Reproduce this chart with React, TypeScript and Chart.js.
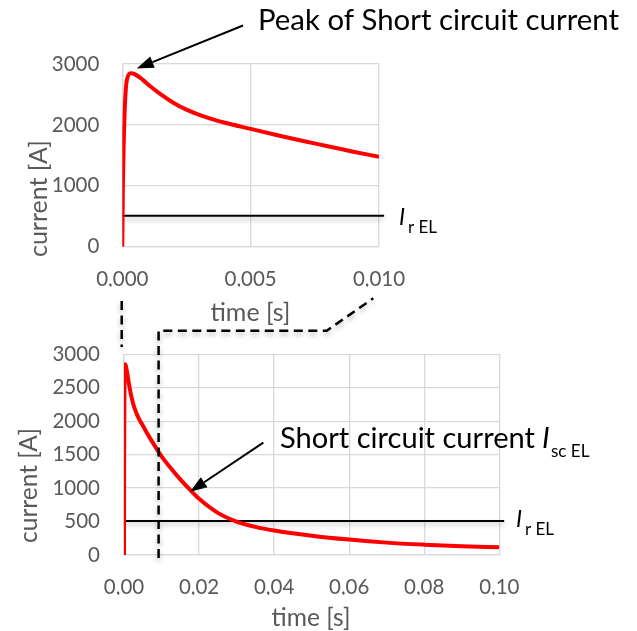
import React, { useEffect, useRef } from "react";
import { Chart, registerables } from "chart.js";

Chart.register(...registerables);

// ---- data ----
const timeS = [
  0, 0.00002, 0.00005, 0.0001, 0.00015, 0.00022, 0.00034, 0.0005, 0.0008, 0.0011,
  0.0015, 0.002, 0.0025, 0.003, 0.0035, 0.004, 0.005, 0.006, 0.007, 0.008,
  0.009, 0.01, 0.012, 0.015, 0.018, 0.02, 0.025, 0.03, 0.035, 0.04,
  0.05, 0.06, 0.07, 0.08, 0.09, 0.1,
];
const currentA = [
  0, 900, 1600, 2300, 2650, 2800, 2850, 2830, 2740, 2630,
  2500, 2360, 2250, 2165, 2095, 2035, 1935, 1835, 1740, 1650,
  1560, 1475, 1330, 1130, 950, 840, 630, 500, 420, 365,
  288, 230, 185, 155, 132, 115,
];
const ratedCurrentA = 510;

const topXTicks = [0, 0.005, 0.01];
const topXTickLabels = ["0,000", "0,005", "0,010"];
const topYTicks = [0, 1000, 2000, 3000];

const bottomXTicks = [0, 0.02, 0.04, 0.06, 0.08, 0.1];
const bottomXTickLabels = ["0,00", "0,02", "0,04", "0,06", "0,08", "0,10"];
const bottomYTicks = [0, 500, 1000, 1500, 2000, 2500, 3000];

const W = 637;
const H = 631;
const FONT = "Lato";
const GRAY = "#595959";
const GRID = "#d9d9d9";

const shadowPlugin = {
  id: "lineShadow",
  beforeDatasetDraw(chart: any, args: any) {
    if (args.index === 1) {
      const c = chart.ctx;
      c.save();
      c.shadowColor = "rgba(0,0,0,0.28)";
      c.shadowBlur = 5;
      c.shadowOffsetY = 3;
    }
  },
  afterDatasetDraw(chart: any, args: any) {
    if (args.index === 1) chart.ctx.restore();
  },
};

type Cfg = {
  xMax: number;
  ratedEnd: number;
  xTicks: number[];
  xLabels: string[];
  yTicks: number[];
  yWidth: number;
  tickPadY: number;
  padding: { left: number; right: number; top: number; bottom: number };
};

function makeChart(canvas: HTMLCanvasElement, cfg: Cfg) {
  const pts = timeS
    .map((t, i) => ({ x: t, y: currentA[i] }))
    .filter((p) => p.x <= cfg.xMax + 1e-12);
  return new Chart(canvas, {
    type: "line",
    data: {
      datasets: [
        {
          data: pts,
          borderColor: "#ff0000",
          borderWidth: 4,
          pointRadius: 0,
          cubicInterpolationMode: "monotone",
          fill: false,
        },
        {
          data: [
            { x: 0, y: ratedCurrentA },
            { x: cfg.ratedEnd, y: ratedCurrentA },
          ],
          borderColor: "#000000",
          borderWidth: 2,
          pointRadius: 0,
          fill: false,
          clip: false as any,
        },
      ],
    },
    options: {
      responsive: false,
      animation: false,
      devicePixelRatio: 1,
      layout: { padding: cfg.padding },
      plugins: { legend: { display: false }, tooltip: { enabled: false } },
      events: [],
      scales: {
        x: {
          type: "linear",
          min: 0,
          max: cfg.xMax,
          afterBuildTicks: (s: any) => {
            s.ticks = cfg.xTicks.map((v) => ({ value: v }));
          },
          afterFit: (s: any) => {
            s.height = 40;
          },
          grid: { color: GRID, lineWidth: 1.3, drawTicks: false },
          border: { display: true, color: GRID, width: 1.3 },
          ticks: {
            padding: 20,
            maxRotation: 0,
            autoSkip: false,
            color: GRAY,
            font: { family: FONT, size: 20.5 },
            callback: (_v: any, i: number) => cfg.xLabels[i],
          },
        },
        y: {
          type: "linear",
          min: 0,
          max: 3000,
          afterBuildTicks: (s: any) => {
            s.ticks = cfg.yTicks.map((v) => ({ value: v }));
          },
          afterFit: (s: any) => {
            s.width = cfg.yWidth;
          },
          grid: { color: GRID, lineWidth: 1.3, drawTicks: false },
          border: { display: true, color: GRID, width: 1.3 },
          ticks: {
            padding: cfg.tickPadY,
            color: GRAY,
            font: { family: FONT, size: 20.5 },
            callback: (v: any) => String(v),
          },
        },
      },
    },
    plugins: [shadowPlugin],
  } as any);
}

function fitSize(ctx: CanvasRenderingContext2D, text: string, width: number, style = "") {
  ctx.font = `${style} 100px ${FONT}`.trim();
  return (100 * width) / ctx.measureText(text).width;
}

function drawOverlay(ctx: CanvasRenderingContext2D) {
  ctx.clearRect(0, 0, W, H);

  // axis titles
  const title = (text: string, cx: number, cy: number, width: number, rotate: boolean) => {
    const size = fitSize(ctx, text, width);
    ctx.save();
    ctx.fillStyle = GRAY;
    ctx.font = `${size}px ${FONT}`;
    ctx.textAlign = "center";
    ctx.textBaseline = "middle";
    ctx.translate(cx, cy);
    if (rotate) ctx.rotate(-Math.PI / 2);
    ctx.fillText(text, 0, 0);
    ctx.restore();
  };
  title("current [A]", 39, 198.5, 117, true);
  title("time [s]", 250.5, 313, 80, false);
  title("current [A]", 29, 485.5, 115, true);
  title("time [s]", 311, 618, 79, false);

  // dashed connectors
  ctx.save();
  ctx.strokeStyle = "#000";
  ctx.lineWidth = 2.5;
  ctx.setLineDash([9, 5.5]);
  ctx.shadowColor = "rgba(0,0,0,0.3)";
  ctx.shadowBlur = 5;
  ctx.shadowOffsetY = 3;
  ctx.beginPath();
  ctx.moveTo(121.7, 301);
  ctx.lineTo(121.7, 347);
  ctx.stroke();
  ctx.beginPath();
  ctx.moveTo(158.6, 558);
  ctx.lineTo(158.6, 330.7);
  ctx.lineTo(326.7, 330.7);
  ctx.lineTo(373.3, 298.3);
  ctx.stroke();
  ctx.restore();

  // arrows
  const arrow = (x1: number, y1: number, x2: number, y2: number) => {
    const len = 17;
    const hw = 6;
    const a = Math.atan2(y2 - y1, x2 - x1);
    const bx = x2 - len * Math.cos(a);
    const by = y2 - len * Math.sin(a);
    ctx.save();
    ctx.strokeStyle = "#000";
    ctx.fillStyle = "#000";
    ctx.lineWidth = 2;
    ctx.beginPath();
    ctx.moveTo(x1, y1);
    ctx.lineTo(bx, by);
    ctx.stroke();
    ctx.beginPath();
    ctx.moveTo(x2, y2);
    ctx.lineTo(bx + hw * Math.sin(a), by - hw * Math.cos(a));
    ctx.lineTo(bx - hw * Math.sin(a), by + hw * Math.cos(a));
    ctx.closePath();
    ctx.fill();
    ctx.restore();
  };
  arrow(243, 25.5, 136.7, 68.5);
  arrow(263.3, 442.7, 190, 491.7);

  // annotation texts
  ctx.save();
  ctx.fillStyle = "#000";
  ctx.textAlign = "left";
  ctx.textBaseline = "alphabetic";
  const peak = "Peak of Short circuit current";
  const ps = fitSize(ctx, peak, 361);
  ctx.font = `${ps}px ${FONT}`;
  ctx.fillText(peak, 258, 29.5);

  const sc = "Short circuit current";
  const ss = fitSize(ctx, sc, 255);
  ctx.font = `${ss}px ${FONT}`;
  ctx.fillText(sc, 280, 448);
  ctx.font = `italic ${ss}px ${FONT}`;
  ctx.fillText("I", 542, 448);
  ctx.font = `17px ${FONT}`;
  ctx.fillText("sc EL", 551, 457);

  const irLabel = (x: number, y: number) => {
    ctx.font = `italic 23px ${FONT}`;
    ctx.fillText("I", x, y);
    ctx.font = `17px ${FONT}`;
    ctx.fillText("r EL", x + 9, y + 8);
  };
  irLabel(399, 225);
  irLabel(516, 527);
  ctx.restore();
}

export default function App() {
  const topRef = useRef<HTMLCanvasElement>(null);
  const botRef = useRef<HTMLCanvasElement>(null);
  const ovRef = useRef<HTMLCanvasElement>(null);

  useEffect(() => {
    const top = makeChart(topRef.current!, {
      xMax: 0.01,
      ratedEnd: 0.0102,
      xTicks: topXTicks,
      xLabels: topXTickLabels,
      yTicks: topYTicks,
      yWidth: 122.3,
      tickPadY: 23,
      padding: { left: 0, right: W - 379, top: 64, bottom: 300 - 246.7 - 40 },
    });
    const bottom = makeChart(botRef.current!, {
      xMax: 0.1,
      ratedEnd: 0.1013,
      xTicks: bottomXTicks,
      xLabels: bottomXTickLabels,
      yTicks: bottomYTicks,
      yWidth: 124,
      tickPadY: 24,
      padding: { left: 0, right: W - 499.3, top: 54.3, bottom: 331 - 255 - 40 },
    });
    const ctx = ovRef.current!.getContext("2d")!;
    drawOverlay(ctx);
    return () => {
      top.destroy();
      bottom.destroy();
    };
  }, []);

  const abs: React.CSSProperties = { position: "absolute", left: 0 };
  return (
    <div style={{ position: "absolute", left: 0, top: 0, width: W, height: H, background: "#fff" }}>
      <canvas ref={topRef} width={W} height={300} style={{ ...abs, top: 0, width: W, height: 300 }} />
      <canvas ref={botRef} width={W} height={331} style={{ ...abs, top: 300, width: W, height: 331 }} />
      <canvas ref={ovRef} width={W} height={H} style={{ ...abs, top: 0, width: W, height: H }} />
    </div>
  );
}
